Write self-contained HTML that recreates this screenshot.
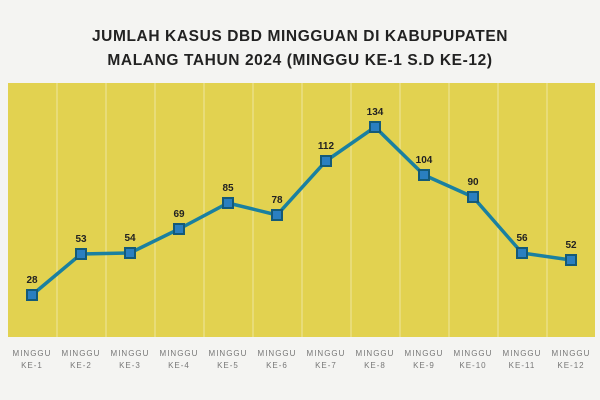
<!DOCTYPE html>
<html><head><meta charset="utf-8"><style>
body{margin:0;background:#f4f4f2;width:600px;height:400px;overflow:hidden}
svg{display:block}
</style></head><body>
<svg width="600" height="400" xmlns="http://www.w3.org/2000/svg" font-family="Liberation Sans, sans-serif">
<rect width="600" height="400" fill="#f4f4f2"/>
<text x="300" y="41" text-anchor="middle" font-size="15.5" font-weight="bold" fill="#222" letter-spacing="0.6">JUMLAH KASUS DBD MINGGUAN DI KABUPUPATEN</text>
<text x="300" y="65" text-anchor="middle" font-size="15.5" font-weight="bold" fill="#222" letter-spacing="0.6">MALANG  TAHUN 2024 (MINGGU KE-1 S.D KE-12)</text>
<rect x="8" y="83" width="587" height="254" fill="#e2d250"/>
<g stroke="#efe7a0" stroke-width="1">
<line x1="57" y1="83" x2="57" y2="337"/><line x1="106" y1="83" x2="106" y2="337"/><line x1="155" y1="83" x2="155" y2="337"/><line x1="204" y1="83" x2="204" y2="337"/><line x1="253" y1="83" x2="253" y2="337"/><line x1="302" y1="83" x2="302" y2="337"/><line x1="351" y1="83" x2="351" y2="337"/><line x1="400" y1="83" x2="400" y2="337"/><line x1="449" y1="83" x2="449" y2="337"/><line x1="498" y1="83" x2="498" y2="337"/><line x1="547" y1="83" x2="547" y2="337"/>
</g>
<polyline fill="none" stroke="#1a80a0" stroke-width="3.5" points="32,295 81,254 130,253 179,229 228,203 277,215 326,161 375,127 424,175 473,197 522,253 571,260"/>
<g fill="#2a7fc0" stroke="#145a78" stroke-width="2">
<rect x="27" y="290" width="10" height="10"/><rect x="76" y="249" width="10" height="10"/><rect x="125" y="248" width="10" height="10"/><rect x="174" y="224" width="10" height="10"/><rect x="223" y="198" width="10" height="10"/><rect x="272" y="210" width="10" height="10"/><rect x="321" y="156" width="10" height="10"/><rect x="370" y="122" width="10" height="10"/><rect x="419" y="170" width="10" height="10"/><rect x="468" y="192" width="10" height="10"/><rect x="517" y="248" width="10" height="10"/><rect x="566" y="255" width="10" height="10"/>
</g>
<g font-size="10" font-weight="bold" fill="#222" text-anchor="middle">
<text x="32" y="283">28</text><text x="81" y="242">53</text><text x="130" y="241">54</text><text x="179" y="217">69</text><text x="228" y="191">85</text><text x="277" y="203">78</text><text x="326" y="149">112</text><text x="375" y="115">134</text><text x="424" y="163">104</text><text x="473" y="185">90</text><text x="522" y="241">56</text><text x="571" y="248">52</text>
</g>
<g font-size="8" fill="#777" text-anchor="middle" letter-spacing="1">
<text x="32" y="356">MINGGU</text><text x="81" y="356">MINGGU</text><text x="130" y="356">MINGGU</text><text x="179" y="356">MINGGU</text><text x="228" y="356">MINGGU</text><text x="277" y="356">MINGGU</text><text x="326" y="356">MINGGU</text><text x="375" y="356">MINGGU</text><text x="424" y="356">MINGGU</text><text x="473" y="356">MINGGU</text><text x="522" y="356">MINGGU</text><text x="571" y="356">MINGGU</text>
<text x="32" y="368">KE-1</text><text x="81" y="368">KE-2</text><text x="130" y="368">KE-3</text><text x="179" y="368">KE-4</text><text x="228" y="368">KE-5</text><text x="277" y="368">KE-6</text><text x="326" y="368">KE-7</text><text x="375" y="368">KE-8</text><text x="424" y="368">KE-9</text><text x="473" y="368">KE-10</text><text x="522" y="368">KE-11</text><text x="571" y="368">KE-12</text>
</g>
</svg>
</body></html>
